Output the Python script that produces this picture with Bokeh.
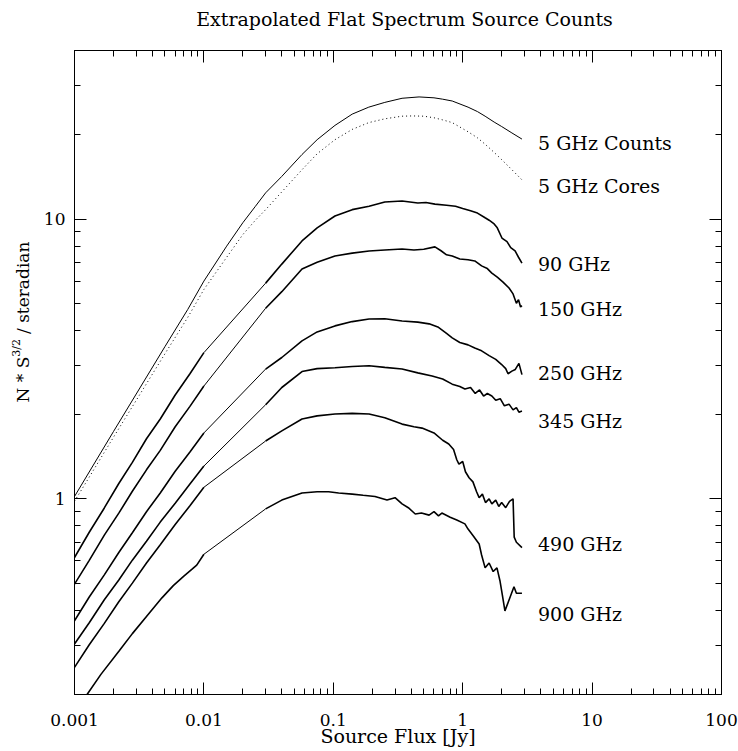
import numpy as np
from bokeh.plotting import figure
from bokeh.layouts import row, column
from bokeh.models import LogAxis, FixedTicker, CustomJSTickFormatter, Label, Range1d
from bokeh.core.properties import value
from bokeh.embed import file_html
from bokeh.resources import INLINE

FONT = "DejaVu Serif"

TITLE = "Extrapolated Flat Spectrum Source Counts"
X_LABEL = "Source Flux [Jy]"
Y_LABEL_PARTS = ["N * S", "3/2", "/ steradian"]
X_MAJOR = [0.001, 0.01, 0.1, 1, 10, 100]
Y_MAJOR = [1, 10]

# 5 GHz smooth curves
c5_x = [0.001, 0.002, 0.003, 0.005, 0.0075, 0.01, 0.015, 0.02, 0.025, 0.03, 0.04, 0.0573, 0.075,
        0.103, 0.14, 0.188, 0.25, 0.34, 0.46, 0.6, 0.7, 0.83, 1.1, 1.3, 1.49, 1.75, 2.0, 2.4, 2.87]
c5_counts = [1.02, 1.74, 2.37, 3.5, 4.75, 6.0, 8.0, 9.7, 11.1, 12.4, 14.2, 17.0, 19.2,
             21.6, 23.7, 25.1, 26.1, 27.0, 27.3, 27.1, 26.8, 26.4, 25.1, 24.2, 23.3, 22.2, 21.4, 20.3, 19.3]
c5d_x = [0.001, 0.002, 0.003, 0.005, 0.0075, 0.01, 0.015, 0.02, 0.025, 0.03, 0.04, 0.0573, 0.075,
         0.103, 0.14, 0.188, 0.25, 0.34, 0.41, 0.5, 0.6, 0.7, 0.83, 1.1, 1.3, 1.49, 1.75, 2.0, 2.4, 2.87]
c5_cores = [0.98, 1.66, 2.25, 3.3, 4.45, 5.6, 7.3, 8.8, 9.9, 10.8, 12.5, 15.0, 17.1,
            19.2, 20.9, 22.1, 22.8, 23.3, 23.35, 23.3, 23.0, 22.6, 22.1, 20.5, 19.5, 18.5, 17.3, 16.3, 15.0, 13.8]

# faint-end (0.001 - 0.01 Jy) segments
lo_x = [0.001, 0.0013, 0.0017, 0.0022, 0.0028, 0.0036, 0.0046, 0.006, 0.0078, 0.01]
g90_lo = [0.617, 0.760, 0.928, 1.135, 1.35, 1.64, 1.93, 2.35, 2.80, 3.33]
g150_lo = [0.496, 0.603, 0.742, 0.889, 1.065, 1.27, 1.49, 1.81, 2.14, 2.53]
g250_lo = [0.367, 0.446, 0.535, 0.643, 0.757, 0.90, 1.05, 1.255, 1.47, 1.72]
g345_lo = [0.303, 0.361, 0.436, 0.513, 0.604, 0.706, 0.826, 0.965, 1.13, 1.31]
g490_lo = [0.25, 0.301, 0.359, 0.429, 0.500, 0.590, 0.686, 0.810, 0.945, 1.10]
g900_lo_x = [0.001, 0.00125, 0.0016, 0.00221, 0.0028, 0.0036, 0.00474, 0.0058, 0.007, 0.0081, 0.0088, 0.01]
g900_lo = [0.172, 0.2, 0.236, 0.286, 0.33, 0.38, 0.443, 0.49, 0.53, 0.561, 0.58, 0.634]

# bright-end (0.03 - 3 Jy) segments
g90_hi_x = [0.03, 0.04, 0.0573, 0.075, 0.103, 0.14, 0.189, 0.25, 0.34, 0.45, 0.52, 0.61, 0.75,
            0.88, 1.0, 1.15, 1.3, 1.49, 1.6, 1.75, 1.85, 2.01, 2.2, 2.35, 2.54, 2.7, 2.87]
g90_hi = [5.9, 6.9, 8.35, 9.3, 10.25, 10.8, 11.1, 11.5, 11.6, 11.4, 11.45, 11.3, 11.2,
          11.1, 10.9, 10.7, 10.5, 10.1, 9.9, 9.6, 9.3, 8.55, 8.3, 7.9, 7.69, 7.3, 6.96]
g150_hi_x = [0.03, 0.04, 0.0573, 0.075, 0.103, 0.14, 0.189, 0.25, 0.34, 0.42, 0.5, 0.61, 0.68,
             0.75, 0.83, 0.95, 1.1, 1.24, 1.4, 1.55, 1.68, 1.85, 2.05, 2.28, 2.45, 2.6, 2.7, 2.8, 2.87]
g150_hi = [4.8, 5.5, 6.63, 7.0, 7.38, 7.55, 7.69, 7.75, 7.81, 7.75, 7.8, 7.95, 7.7,
           7.45, 7.38, 7.2, 7.15, 7.08, 6.8, 6.65, 6.41, 6.2, 5.95, 5.67, 5.4, 5.0, 5.15, 4.85, 4.9]
g250_hi_x = [0.03, 0.04, 0.0573, 0.075, 0.103, 0.14, 0.189, 0.25, 0.34, 0.45, 0.55, 0.65, 0.75,
             0.83, 0.95, 1.1, 1.24, 1.4, 1.6, 1.8, 2.0, 2.15, 2.24, 2.4, 2.55, 2.72, 2.87]
g250_hi = [2.91, 3.2, 3.67, 3.95, 4.15, 4.3, 4.39, 4.4, 4.32, 4.28, 4.22, 4.1, 3.9,
           3.76, 3.62, 3.55, 3.46, 3.38, 3.25, 3.15, 3.02, 2.92, 2.80, 2.86, 2.90, 3.05, 2.78]
g345_hi_x = [0.03, 0.04, 0.0573, 0.075, 0.103, 0.14, 0.189, 0.25, 0.34, 0.45, 0.58, 0.7, 0.83,
             0.95, 1.04, 1.15, 1.25, 1.35, 1.45, 1.55, 1.68, 1.8, 1.95, 2.1, 2.28, 2.45, 2.6, 2.72, 2.87]
g345_hi = [2.17, 2.5, 2.85, 2.92, 2.94, 2.97, 2.99, 2.95, 2.91, 2.82, 2.75, 2.68, 2.57,
           2.52, 2.47, 2.5, 2.38, 2.45, 2.33, 2.38, 2.33, 2.25, 2.28, 2.15, 2.18, 2.08, 2.12, 2.04, 2.06]
g490_hi_x = [0.03, 0.04, 0.0573, 0.075, 0.103, 0.14, 0.189, 0.25, 0.34, 0.42, 0.485, 0.6, 0.7,
             0.78, 0.85, 0.9, 0.935, 1.0, 1.05, 1.12, 1.2, 1.28, 1.34, 1.42, 1.5, 1.6, 1.68, 1.8,
             1.9, 2.0, 2.15, 2.3, 2.45, 2.5, 2.6, 2.87]
g490_hi = [1.61, 1.75, 1.93, 1.98, 2.01, 2.02, 2.01, 1.95, 1.85, 1.81, 1.79, 1.72, 1.62,
           1.57, 1.5, 1.38, 1.33, 1.36, 1.25, 1.19, 1.15, 1.06, 1.01, 1.04, 0.97, 1.0, 0.96, 0.99,
           0.94, 0.97, 0.93, 0.98, 1.0, 0.73, 0.70, 0.67]
g900_hi_x = [0.03, 0.04, 0.0573, 0.075, 0.092, 0.11, 0.14, 0.17, 0.21, 0.26, 0.3, 0.34, 0.38,
             0.43, 0.48, 0.55, 0.6, 0.65, 0.69, 0.8, 0.9, 1.04, 1.1, 1.2, 1.34, 1.4, 1.49, 1.6,
             1.72, 1.84, 1.94, 2.03, 2.12, 2.3, 2.49, 2.6, 2.87]
g900_hi = [0.921, 0.99, 1.05, 1.06, 1.06, 1.05, 1.04, 1.03, 1.02, 0.99, 1.01, 0.96, 0.93,
           0.883, 0.89, 0.875, 0.90, 0.87, 0.89, 0.86, 0.84, 0.814, 0.78, 0.74, 0.69, 0.63, 0.567, 0.59,
           0.55, 0.567, 0.51, 0.45, 0.398, 0.44, 0.485, 0.46, 0.46]

curve_names = ["5 GHz Counts", "5 GHz Cores", "90 GHz", "150 GHz", "250 GHz", "345 GHz", "490 GHz", "900 GHz"]
label_y = [18.7, 13.1, 6.9, 4.77, 2.82, 1.90, 0.69, 0.388]
label_x = 3.82

PAGE_H = 751
TITLE_H = 40
STRIP_W = 40
TOTAL_W = 737


def blank_fig(w, h):
    f = figure(width=w, height=h, x_range=Range1d(0, w), y_range=Range1d(0, h),
               x_axis_location=None, y_axis_location=None, min_border=0,
               output_backend="svg", toolbar_location=None)
    f.grid.visible = False
    f.outline_line_color = None
    f.background_fill_color = "white"
    f.border_fill_color = "white"
    f.align = "start"
    return f


# ---------------- title strip ----------------
tfig = blank_fig(TOTAL_W, TITLE_H)
tfig.text(x=[404], y=[TITLE_H - 18], text=[TITLE], text_align="center", text_baseline="middle",
          text_font=value(FONT), text_font_size=value("19px"), text_color="black")

# ---------------- main plot ----------------
p = figure(x_axis_type="log", y_axis_type="log",
           x_range=Range1d(0.001, 100), y_range=Range1d(0.2, 40),
           frame_width=647, frame_height=644,
           min_border_left=32, min_border_right=18, min_border_top=10, min_border_bottom=57,
           output_backend="svg", toolbar_location=None)
p.background_fill_color = "white"
p.border_fill_color = "white"
p.outline_line_color = "black"
p.grid.visible = False
p.align = "start"

x_minor = [m * 10.0 ** e for e in range(-3, 2) for m in range(2, 10)]
y_minor = [m * 10.0 ** e for e in range(-1, 2) for m in range(2, 10)]


def style(ax, ticks, minor, show):
    ax.ticker = FixedTicker(ticks=ticks, minor_ticks=minor)
    ax.major_tick_in = 12
    ax.major_tick_out = 0
    ax.minor_tick_in = 6
    ax.minor_tick_out = 0
    ax.axis_line_color = "black"
    ax.major_tick_line_color = "black"
    ax.minor_tick_line_color = "black"
    ax.major_label_text_font = FONT
    ax.major_label_text_font_size = "17px"
    ax.major_label_text_color = "black"
    ax.axis_label_text_font = FONT
    ax.axis_label_text_font_size = "19px"
    ax.axis_label_text_font_style = "normal"
    ax.axis_label_text_color = "black"
    if show:
        ax.formatter = CustomJSTickFormatter(code="return tick.toString()")
    else:
        ax.formatter = CustomJSTickFormatter(code="return ''")
        ax.major_label_standoff = 0


xa = p.xaxis[0]
style(xa, X_MAJOR, x_minor, True)
xa.axis_label = X_LABEL
xa.major_label_standoff = 19
xa.axis_label_standoff = -4

ya = p.yaxis[0]
style(ya, Y_MAJOR, y_minor, True)
ya.major_label_standoff = 9
ya.axis_label = None

top = LogAxis()
style(top, X_MAJOR, x_minor, False)
p.add_layout(top, "above")
right = LogAxis()
style(right, Y_MAJOR, y_minor, False)
p.add_layout(right, "right")

# curves
p.line(c5_x, c5_counts, line_color="black", line_width=1.0)
p.line(c5d_x, c5_cores, line_color="black", line_width=1.0, line_dash="1 3")

noisy = [
    (lo_x, g90_lo, g90_hi_x, g90_hi),
    (lo_x, g150_lo, g150_hi_x, g150_hi),
    (lo_x, g250_lo, g250_hi_x, g250_hi),
    (lo_x, g345_lo, g345_hi_x, g345_hi),
    (lo_x, g490_lo, g490_hi_x, g490_hi),
    (g900_lo_x, g900_lo, g900_hi_x, g900_hi),
]
for lx, ly, hx, hy in noisy:
    p.line(lx, ly, line_color="black", line_width=1.6)
    p.line([lx[-1], hx[0]], [ly[-1], hy[0]], line_color="black", line_width=1.0)
    p.line(hx, hy, line_color="black", line_width=1.6)

for name, yv in zip(curve_names, label_y):
    p.add_layout(Label(x=label_x, y=yv, text=name, text_align="left", text_baseline="middle",
                       text_font=FONT, text_font_size="19px", text_color="black"))

# ---------------- y-axis title strip (pixel coordinates, y up) ----------------
LH = PAGE_H - TITLE_H
GAP_START = 378      # picture row where "S" ends and the superscript begins
SUP_LEN = 19         # length of the superscript run
SUP_GAP = 6          # space after the superscript
lab = blank_fig(STRIP_W, LH)
lab.text(x=[22, 16, 22],
         y=[PAGE_H - GAP_START, PAGE_H - GAP_START, PAGE_H - GAP_START + SUP_LEN + SUP_GAP],
         text=Y_LABEL_PARTS, angle=np.pi / 2,
         text_align=["right", "left", "left"], text_baseline="middle",
         text_font=value(FONT), text_font_size=["17px", "11px", "17px"], text_color="black")

layout = column(tfig, row(lab, p, spacing=0), spacing=0)
open("out.html", "w").write(file_html(layout, INLINE))
